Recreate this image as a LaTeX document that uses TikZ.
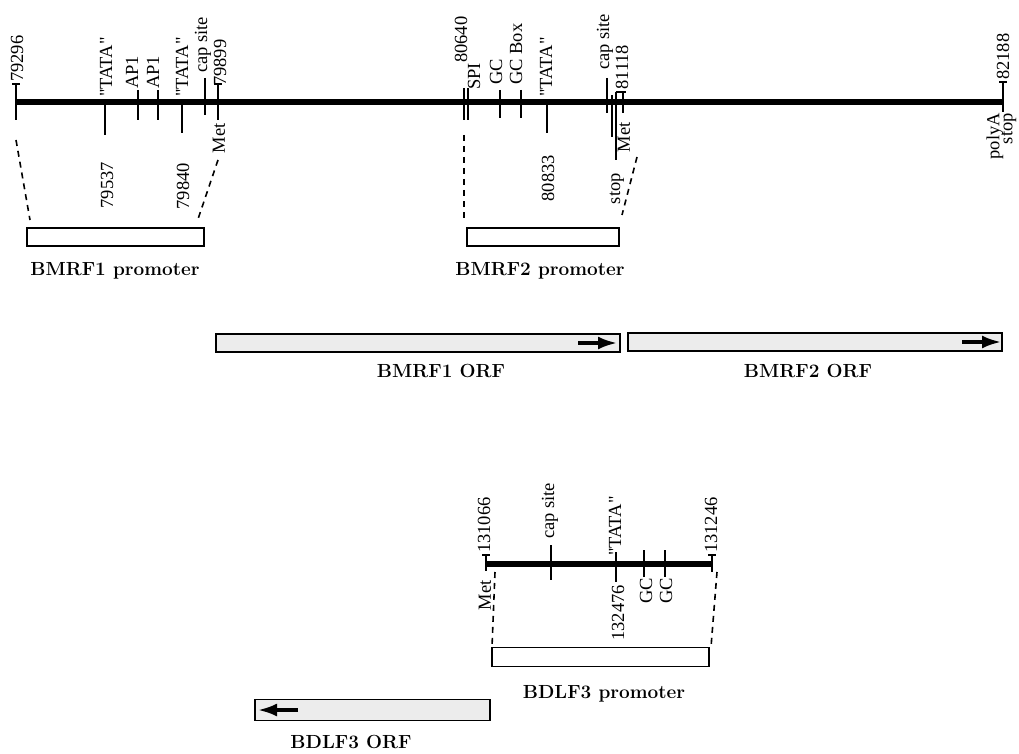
\documentclass[tikz,border=0pt]{standalone}
\usepackage{fontspec}
\newfontfamily\labfont{Liberation Serif}
\usetikzlibrary{arrows.meta}
\begin{document}
\begin{tikzpicture}[x=1pt,y=-1pt,
  dna/.style={line width=6.5pt},
  tick/.style={line width=2pt},
  lab/.style={rotate=90,inner sep=0pt,font=\labfont\fontsize{18.5}{18.5}\selectfont},
  up/.style={lab,anchor=west},
  dn/.style={lab,anchor=east},
  ttl/.style={inner sep=0pt,font=\bfseries\fontsize{19}{19}\selectfont},
  zoomline/.style={line width=1.6pt,dash pattern=on 6pt off 5pt},
  prom/.style={draw,line width=1.6pt,fill=white},
  orf/.style={draw,line width=1.6pt,fill=gray!15},
  orfarrow/.style={line width=3.2pt,-{Latex[length=19pt,width=13pt]}}
]
\path[use as bounding box,fill=white] (0,0) rectangle (1019,754);

% ---------- main BMRF map ----------
\coordinate (mL) at (16,102);
\coordinate (mR) at (1003,102);
\draw[dna] (mL) -- (mR);

% ticks
\draw[tick] (16,84) -- (16,120);   \draw[tick] (12,84) -- (20,84);
\draw[tick] (105,102) -- (105,135);
\draw[tick] (138,90) -- (138,120);
\draw[tick] (158,90) -- (158,120);
\draw[tick] (182,102) -- (182,133);
\draw[tick] (205,78) -- (205,115);
\draw[tick] (218,84) -- (218,120);  \draw[tick] (214,84) -- (222,84);
\draw[tick] (464,88) -- (464,120);
\draw[tick] (467.5,88) -- (467.5,120);
\draw[tick] (500,90) -- (500,118);
\draw[tick] (521,90) -- (521,118);
\draw[tick] (547,102) -- (547,133);
\draw[tick] (607,78) -- (607,113);
\draw[tick] (612,95) -- (612,137);
\draw[tick] (615.5,92) -- (615.5,160);
\draw[tick] (623,92) -- (623,113);   \draw[tick] (615.5,92) -- (626,92);
\draw[tick] (1003,82) -- (1003,112);  \draw[tick] (999,82) -- (1007,82);

% labels above
\node[up] (l79296) at (17,82) {79296};
\node[up] (tata1) at (106,97) {"TATA"};
\node[up] (ap1a) at (132,89) {AP1};
\node[up] (ap1b) at (153,89) {AP1};
\node[up] (tata2) at (182,97) {"TATA"};
\node[up] (cap1) at (203,73) {cap site};
\node[up] (l79899) at (220,86) {79899};
\node[up] (l80640) at (461,63) {80640};
\node[up] (spi) at (474,90) {SPI};
\node[up] (gc1) at (496,85) {GC};
\node[up] (gcbox) at (516,85) {GC Box};
\node[up] (tata3) at (546,97) {"TATA"};
\node[up] (cap2) at (605,70) {cap site};
\node[up] (l81118) at (622,90) {81118};
\node[up] (l82188) at (1003,80) {82188};

% labels below
\node[dn] (l79537) at (107,162) {79537};
\node[dn] (l79840) at (183,163) {79840};
\node[dn] (met1) at (219,123) {Met};
\node[dn] (l80833) at (548,155) {80833};
\node[dn] (met2) at (624,122) {Met};
\node[dn] (stop1) at (617,173) {stop};
\node[dn] (polya) at (995,113) {polyA};
\node[dn] (stop2) at (1009,113) {stop};

% promoter boxes
\node[prom,minimum width=177pt,minimum height=18pt] (p1) at (115.5,237) {};
\node[prom,minimum width=152pt,minimum height=18pt] (p2) at (543,237) {};
\node[ttl] (p1t) at (115,271) {BMRF1 promoter};
\node[ttl] (p2t) at (540,271) {BMRF2 promoter};

\coordinate (z1a) at (16,140);  \coordinate (z1b) at (30,220);
\coordinate (z1c) at (218,160); \coordinate (z1d) at (197,222);
\draw[zoomline] (z1a) -- (z1b);
\draw[zoomline] (z1c) -- (z1d);
\coordinate (z2a) at (464,135); \coordinate (z2b) at (464,218);
\coordinate (z2c) at (637,157); \coordinate (z2d) at (622,215);
\draw[zoomline] (z2a) -- (z2b);
\draw[zoomline] (z2c) -- (z2d);

% ORFs
\node[orf,minimum width=404pt,minimum height=18pt] (o1) at (418,343) {};
\node[orf,minimum width=374pt,minimum height=18pt] (o2) at (815,342) {};
\draw[orfarrow] (578,343) -- (617,343);
\draw[orfarrow] (962,342) -- (1001,342);
\node[ttl] (o1t) at (441,371) {BMRF1 ORF};
\node[ttl] (o2t) at (808,371) {BMRF2 ORF};

% ---------- BDLF3 map ----------
\coordinate (bL) at (486,564);
\coordinate (bR) at (712,564);
\draw[dna] (bL) -- (bR);
\draw[tick] (486,555) -- (486,571);  \draw[tick] (482,555) -- (490,555);
\draw[tick] (551,545) -- (551,580);
\draw[tick] (616,552) -- (616,582);
\draw[tick] (644,550) -- (644,577);
\draw[tick] (665,550) -- (665,577);
\draw[tick] (712,555) -- (712,572);  \draw[tick] (708,555) -- (716,555);

\node[up] (l131066) at (484,553) {131066};
\node[up] (cap3) at (550,539) {cap site};
\node[up] (tata4) at (615,556) {"TATA"};
\node[up] (l131246) at (711,553) {131246};
\node[dn] (met3) at (485,580) {Met};
\node[dn] (l132476) at (618,585) {132476};
\node[dn] (gc2) at (646,578) {GC};
\node[dn] (gc3) at (666,578) {GC};

\node[prom,minimum width=217pt,minimum height=19pt] (p3) at (600.5,657) {};
\node[ttl] (p3t) at (604,694) {BDLF3 promoter};
\coordinate (z3a) at (495,572); \coordinate (z3b) at (492,647);
\coordinate (z3c) at (717,572); \coordinate (z3d) at (711,647);
\draw[zoomline] (z3a) -- (z3b);
\draw[zoomline] (z3c) -- (z3d);

\node[orf,minimum width=235pt,minimum height=21pt] (o3) at (372.5,710) {};
\draw[orfarrow] (298,710) -- (258,710);
\node[ttl] (o3t) at (351,742) {BDLF3 ORF};
\end{tikzpicture}
\end{document}
